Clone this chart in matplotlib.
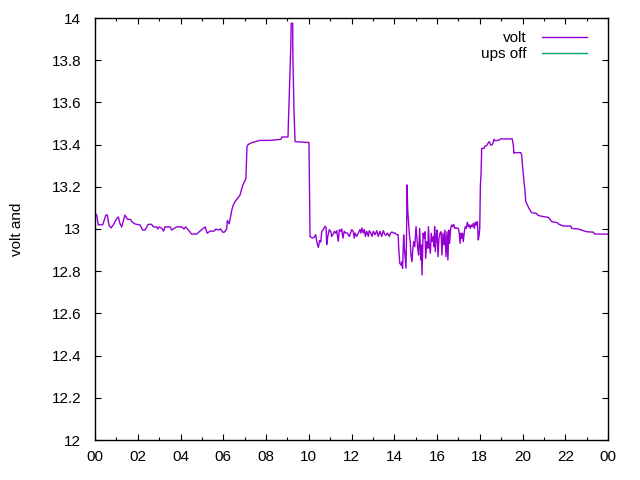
import matplotlib
matplotlib.use("Agg")
import matplotlib.pyplot as plt
from matplotlib.ticker import MultipleLocator, FixedLocator

plt.rcParams['font.family'] = ['Liberation Sans', 'DejaVu Sans']

# time in hours since 00:00, voltage in volts
hours = [
    0.00, 0.08, 0.15, 0.36, 0.51, 0.58, 0.65, 0.75, 0.86, 1.02, 1.09, 1.17, 1.25, 1.40, 1.51,
    1.67, 1.72, 1.87, 2.11, 2.23, 2.34, 2.49, 2.65, 2.73, 2.89, 2.93, 3.01, 3.12, 3.21, 3.27,
    3.51, 3.59, 3.66, 3.82, 4.06, 4.16, 4.24, 4.37, 4.52, 4.76, 4.91, 5.15, 5.25, 5.38, 5.57,
    5.66, 5.77, 5.88, 5.97, 6.05, 6.16, 6.19, 6.28, 6.40, 6.47, 6.55, 6.63, 6.78, 6.92, 7.02,
    7.06, 7.11, 7.16, 7.35, 7.53, 7.72, 8.19, 8.70, 8.75, 9.03, 9.04, 9.16, 9.18, 9.25, 9.255,
    9.31, 9.36, 10.01, 10.035, 10.06,
    10.17, 10.26, 10.32, 10.39, 10.45, 10.51, 10.56, 10.61, 10.68, 10.76, 10.81, 10.84, 10.89,
    10.96, 11.04, 11.07, 11.15, 11.20, 11.26, 11.31, 11.38, 11.43, 11.51, 11.54, 11.60, 11.66,
    11.73, 11.80, 11.85, 11.90, 12.01, 12.08, 12.13,
    12.16, 12.24, 12.32, 12.40, 12.44, 12.49, 12.55, 12.60, 12.65, 12.71, 12.79, 12.83, 12.90,
    12.96, 13.02, 13.10, 13.18, 13.25, 13.33, 13.41, 13.49, 13.55, 13.61, 13.68, 13.77, 13.83,
    13.89, 13.96, 14.04, 14.11, 14.18,
    14.21, 14.26, 14.32, 14.36, 14.39, 14.44, 14.47, 14.52, 14.55, 14.58, 14.60, 14.63, 14.68,
    14.71, 14.75, 14.78, 14.83, 14.86, 14.91, 14.96, 14.99, 15.02, 15.06, 15.10, 15.14, 15.19,
    15.24, 15.27, 15.30, 15.35, 15.39, 15.44, 15.47, 15.52, 15.57, 15.60, 15.64, 15.69, 15.73,
    15.78, 15.83, 15.86, 15.89, 15.92, 15.97,
    16.00, 16.05, 16.09, 16.14, 16.19, 16.23, 16.28, 16.33, 16.37, 16.42, 16.47, 16.51, 16.55,
    16.59, 16.64, 16.69, 16.73, 16.78, 16.83, 16.89, 16.94, 17.00, 17.04, 17.08, 17.11, 17.15,
    17.19, 17.23, 17.28, 17.32, 17.37, 17.42, 17.47, 17.51, 17.56, 17.60, 17.65, 17.70, 17.75,
    17.79, 17.84, 17.89, 17.93, 17.96, 18.00, 18.03, 18.06,
    18.09, 18.20, 18.25, 18.32, 18.40, 18.45, 18.51, 18.57, 18.61, 18.67, 18.71, 18.79, 18.92,
    18.98, 19.52, 19.57, 19.60, 19.64, 19.92, 19.96, 20.01, 20.07, 20.12, 20.15, 20.23, 20.30,
    20.35, 20.43, 20.66, 20.71, 20.85, 21.21, 21.29, 21.37, 21.63, 21.68, 21.91, 22.26, 22.30,
    22.61, 23.00, 23.31, 23.39, 24.00,
]
volt = [
    13.074, 13.066, 13.020, 13.020, 13.066, 13.066, 13.019, 13.005, 13.020, 13.050, 13.057, 13.025, 13.010, 13.066, 13.047,
    13.045, 13.035, 13.024, 13.019, 12.995, 12.995, 13.022, 13.022, 13.010, 13.010, 13.000, 13.010, 13.003, 12.990, 13.010,
    13.010, 12.995, 13.000, 13.010, 13.010, 13.000, 13.010, 12.995, 12.976, 12.976, 12.990, 13.010, 12.980, 12.990, 12.990,
    13.000, 12.995, 13.000, 12.985, 12.985, 13.000, 13.040, 13.025, 13.090, 13.114, 13.130, 13.140, 13.160, 13.210, 13.230,
    13.240, 13.390, 13.400, 13.410, 13.415, 13.420, 13.420, 13.425, 13.436, 13.436, 13.477, 13.864, 13.975, 13.975, 13.830,
    13.560, 13.414, 13.410, 13.185, 12.964,
    12.957, 12.961, 12.973, 12.934, 12.913, 12.945, 12.938, 12.989, 12.997, 13.013, 13.008, 12.926, 12.965,
    12.997, 12.986, 12.965, 12.976, 12.989, 12.981, 12.992, 12.942, 12.997, 12.989, 13.000, 12.957, 12.989,
    12.981, 12.981, 12.973, 12.965, 12.997, 12.989, 12.957,
    12.981, 12.965, 12.981, 12.997, 12.981, 13.005, 12.981, 12.997, 12.965, 12.989, 12.965, 12.992, 12.981,
    12.965, 12.989, 12.973, 12.992, 12.965, 12.989, 12.965, 12.992, 12.976, 12.970, 12.981, 12.965, 12.981,
    12.986, 12.981, 12.981, 12.973, 12.973,
    12.909, 12.837, 12.829, 12.845, 12.814, 12.972, 12.916, 12.853, 12.814, 13.011, 13.209, 13.090, 13.019,
    12.972, 12.940, 12.877, 12.845, 12.893, 12.940, 12.916, 12.964, 13.011, 12.956, 12.909, 12.877, 13.003,
    12.853, 12.924, 12.782, 12.980, 12.956, 12.987, 12.861, 12.940, 12.909, 13.011, 12.924, 12.885, 12.980,
    12.940, 12.964, 12.916, 13.011, 12.893, 12.972,
    12.995, 12.869, 12.956, 12.980, 12.987, 12.877, 12.980, 12.924, 12.995, 12.869, 12.987, 12.853, 12.995,
    12.932, 13.003, 13.019, 13.011, 13.022, 13.003, 13.006, 13.003, 13.003, 12.980, 12.932, 12.980, 12.956,
    12.980, 12.940, 12.987, 13.011, 13.003, 13.032, 13.011, 13.019, 13.003, 13.019, 13.011, 13.027, 13.003,
    13.032, 13.019, 13.035, 12.948, 12.964, 13.003, 13.209, 13.256,
    13.382, 13.382, 13.393, 13.395, 13.409, 13.414, 13.398, 13.398, 13.405, 13.425, 13.419, 13.419, 13.422,
    13.427, 13.427, 13.398, 13.359, 13.362, 13.362, 13.351, 13.288, 13.224, 13.177, 13.130, 13.114, 13.098,
    13.090, 13.077, 13.074, 13.066, 13.061, 13.055, 13.045, 13.035, 13.030, 13.024, 13.014, 13.014, 13.003,
    13.000, 12.987, 12.985, 12.976, 12.976,
]
ups_off_hours = []
ups_off = []

x_tick_labels = ["00", "02", "04", "06", "08", "10", "12", "14", "16", "18", "20", "22", "00"]
y_tick_values = [12.0, 12.2, 12.4, 12.6, 12.8, 13.0, 13.2, 13.4, 13.6, 13.8, 14.0]
y_tick_labels = ["12", "12.2", "12.4", "12.6", "12.8", "13", "13.2", "13.4", "13.6", "13.8", "14"]

fig = plt.figure(figsize=(6.4, 4.8), dpi=100)
ax = fig.add_axes([95 / 640, 1 - 440 / 480, (608 - 95) / 640, (440 - 18) / 480])

ax.plot(hours, volt, color='#9400d3', lw=1.0, label='volt')
ax.plot(ups_off_hours, ups_off, color='#009e73', lw=1.0, label='ups off')

ax.set_xlim(0, 24)
ax.set_ylim(12, 14)
ax.xaxis.set_major_locator(FixedLocator(list(range(0, 25, 2))))
ax.set_xticklabels(x_tick_labels)
ax.xaxis.set_minor_locator(MultipleLocator(1))
ax.set_yticks(y_tick_values)
ax.set_yticklabels(y_tick_labels)

ax.tick_params(axis='both', which='both', direction='in', top=True, right=True,
               labelsize=11, colors='black', width=0.8)
ax.tick_params(axis='both', which='major', length=4.5)
ax.tick_params(axis='both', which='minor', length=2.5)
ax.tick_params(axis='x', which='major', pad=7)
ax.tick_params(axis='y', which='major', pad=10)
for s in ax.spines.values():
    s.set_linewidth(1.0)

ax.set_ylabel('volt and', fontsize=11, labelpad=20)

leg = ax.legend(loc='upper right', bbox_to_anchor=(1 - 12 / 513, 1 - 4 / 422),
                frameon=False, markerfirst=False, fontsize=11,
                handlelength=2.95, borderaxespad=0.2, labelspacing=0.15, handletextpad=1.0)

fig.savefig('out.png', dpi=100)
